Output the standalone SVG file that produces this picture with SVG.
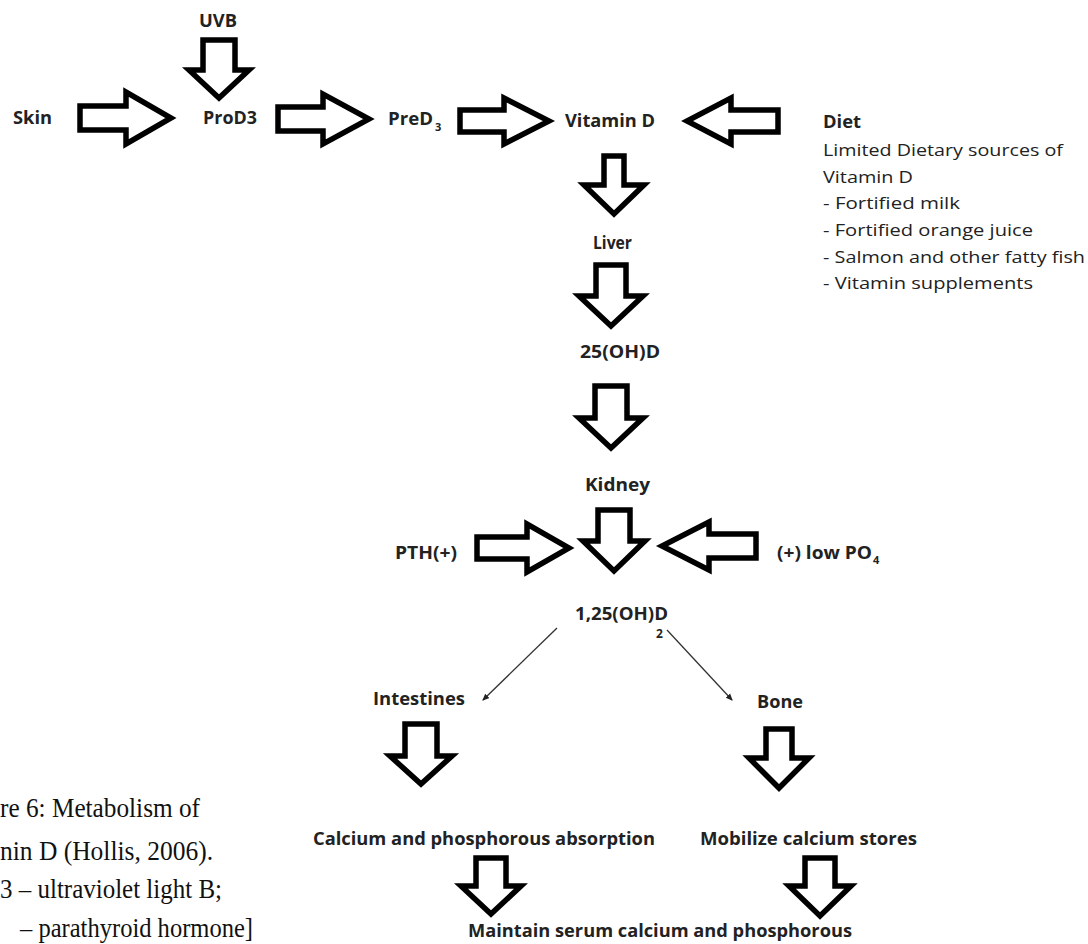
<svg xmlns="http://www.w3.org/2000/svg" width="1088" height="944" viewBox="0 0 1088 944">
<style>
.blk{fill:#fff;stroke:#000;stroke-width:5.5;stroke-linejoin:miter}
.lbl{font-family:"Open Sans","Liberation Sans",sans-serif;font-weight:bold;font-size:17px;fill:#222}
.reg{font-family:"Open Sans","Liberation Sans",sans-serif;font-size:17px;fill:#222}
.cap{font-family:"Liberation Serif",serif;font-size:28px;fill:#111}
.thin{stroke:#333;stroke-width:1.3;fill:none}
</style>
<defs>
<marker id="ah" markerWidth="8" markerHeight="8" refX="6" refY="4" orient="auto" markerUnits="userSpaceOnUse">
<path d="M0,1 L7,4 L0,7 Z" fill="#222"/>
</marker>
</defs>
<rect width="1088" height="944" fill="#fff"/>
<g id="connectors">
<path class="blk" d="M203,40 H235 V70 H249 L219,98 L189,70 H203 Z"/>
<path class="blk" d="M80,106 H126 V92 L171,118 L126,144 V130 H80 Z"/>
<path class="blk" d="M278,107 H323 V94 L369,119 L323,144 V131 H278 Z"/>
<path class="blk" d="M460,110 H504 V98 L549,121 L504,144 V132 H460 Z"/>
<path class="blk" d="M778,110 H731 V98 L687,121 L731,144 V132 H778 Z"/>
<path class="blk" d="M604,156 H624 V185 H644 L614,214 L584,185 H604 Z"/>
<path class="blk" d="M596,265 H626 V296 H643 L611,326 L579,296 H596 Z"/>
<path class="blk" d="M595,386 H627 V418 H643 L611,448 L579,418 H595 Z"/>
<path class="blk" d="M598,510 H630 V541 H645 L614,571 L583,541 H598 Z"/>
<path class="blk" d="M477,537 H527 V524 L569,548 L527,572 V559 H477 Z"/>
<path class="blk" d="M756,534 H709 V522 L662,546 L709,570 V558 H756 Z"/>
<line class="thin" x1="557" y1="628" x2="483" y2="700" marker-end="url(#ah)"/>
<line class="thin" x1="667" y1="630" x2="732" y2="700" marker-end="url(#ah)"/>
<path class="blk" d="M405,724 H437 V756 H452 L421,784 L390,756 H405 Z"/>
<path class="blk" d="M766,729 H792 V758 H809 L779,788 L749,758 H766 Z"/>
<path class="blk" d="M476,858 H506 V886 H521 L491,914 L461,886 H476 Z"/>
<path class="blk" d="M805,858 H835 V886 H851 L820,916 L789,886 H805 Z"/>
</g>
<g id="n-uvb"><text class="lbl" x="218" y="27" text-anchor="middle" textLength="38" lengthAdjust="spacingAndGlyphs">UVB</text></g>
<g id="n-skin"><text class="lbl" x="13" y="124" textLength="39" lengthAdjust="spacingAndGlyphs">Skin</text></g>
<g id="n-prod3"><text class="lbl" x="203" y="124" textLength="54" lengthAdjust="spacingAndGlyphs">ProD3</text></g>
<g id="n-pred3"><text class="lbl" x="388" y="125"><tspan textLength="45" lengthAdjust="spacingAndGlyphs">PreD</tspan><tspan dx="2" dy="6" font-size="11">3</tspan></text></g>
<g id="n-vitd"><text class="lbl" x="565" y="127" textLength="90" lengthAdjust="spacingAndGlyphs">Vitamin D</text></g>
<g id="n-diet">
<text class="lbl" x="823" y="128" textLength="38" lengthAdjust="spacingAndGlyphs">Diet</text>
<text class="reg" x="823" y="156" textLength="240" lengthAdjust="spacingAndGlyphs">Limited Dietary sources of</text>
<text class="reg" x="823" y="183" textLength="90" lengthAdjust="spacingAndGlyphs">Vitamin D</text>
<text class="reg" x="823" y="209" textLength="137" lengthAdjust="spacingAndGlyphs">- Fortified milk</text>
<text class="reg" x="823" y="236" textLength="210" lengthAdjust="spacingAndGlyphs">- Fortified orange juice</text>
<text class="reg" x="823" y="263" textLength="262" lengthAdjust="spacingAndGlyphs">- Salmon and other fatty fish</text>
<text class="reg" x="823" y="289" textLength="210" lengthAdjust="spacingAndGlyphs">- Vitamin supplements</text>
</g>
<g id="n-liver"><text class="lbl" x="593" y="249" textLength="39" lengthAdjust="spacingAndGlyphs">Liver</text></g>
<g id="n-25ohd"><text class="lbl" x="580" y="358" textLength="80" lengthAdjust="spacingAndGlyphs">25(OH)D</text></g>
<g id="n-kidney"><text class="lbl" x="585" y="491" textLength="65" lengthAdjust="spacingAndGlyphs">Kidney</text></g>
<g id="n-pth"><text class="lbl" x="395" y="559" textLength="62" lengthAdjust="spacingAndGlyphs">PTH(+)</text></g>
<g id="n-lowpo4"><text class="lbl" x="777" y="559"><tspan textLength="95" lengthAdjust="spacingAndGlyphs">(+) low PO</tspan><tspan dx="1" dy="5" font-size="11">4</tspan></text></g>
<g id="n-125"><text class="lbl" x="575" y="620"><tspan textLength="93" lengthAdjust="spacingAndGlyphs">1,25(OH)D</tspan><tspan x="656" dy="18" font-size="12">2</tspan></text></g>
<g id="n-intestines"><text class="lbl" x="373" y="705" textLength="92" lengthAdjust="spacingAndGlyphs">Intestines</text></g>
<g id="n-bone"><text class="lbl" x="757" y="708" textLength="46" lengthAdjust="spacingAndGlyphs">Bone</text></g>
<g id="n-absorb"><text class="lbl" x="313" y="845" textLength="342" lengthAdjust="spacingAndGlyphs">Calcium and phosphorous absorption</text></g>
<g id="n-mobilize"><text class="lbl" x="700" y="845" textLength="217" lengthAdjust="spacingAndGlyphs">Mobilize calcium stores</text></g>
<g id="n-maintain"><text class="lbl" x="468" y="937" textLength="384" lengthAdjust="spacingAndGlyphs">Maintain serum calcium and phosphorous</text></g>
<g id="caption">
<text class="cap" x="0" y="817" textLength="200" lengthAdjust="spacingAndGlyphs">re 6: Metabolism of</text>
<text class="cap" x="0" y="860" textLength="213" lengthAdjust="spacingAndGlyphs">nin D (Hollis, 2006).</text>
<text class="cap" x="0" y="898" textLength="222" lengthAdjust="spacingAndGlyphs">3 – ultraviolet light B;</text>
<text class="cap" x="20" y="937" textLength="233" lengthAdjust="spacingAndGlyphs">– parathyroid hormone]</text>
</g>
</svg>
